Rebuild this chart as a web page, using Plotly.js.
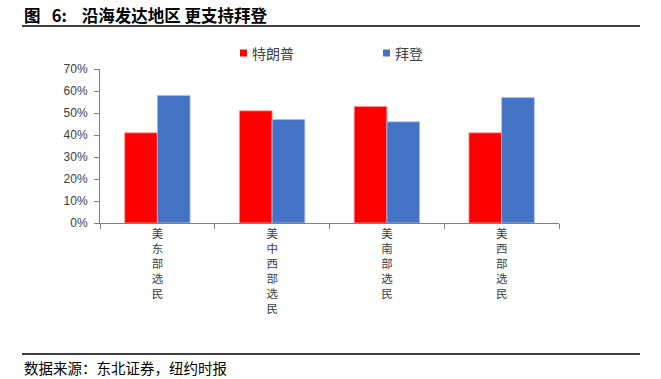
<!DOCTYPE html>
<html>
<head>
<meta charset="utf-8">
<script src="https://cdn.plot.ly/plotly-3.0.1.min.js"></script>
<style>
html,body{margin:0;padding:0;background:#fff;}
#chart{width:661px;height:379px;}
</style>
</head>
<body>
<div id="chart"></div>
<script>
const categories = ['美东部选民', '美中西部选民', '美南部选民', '美西部选民'];
const seriesNames = ['特朗普', '拜登'];
const trumpValues = [0.41, 0.51, 0.53, 0.41];
const bidenValues = [0.58, 0.47, 0.46, 0.57];
const yTickVals = [0, 0.1, 0.2, 0.3, 0.4, 0.5, 0.6, 0.7];
const yTickText = ['0%', '10%', '20%', '30%', '40%', '50%', '60%', '70%'];
const titleText = '图\u00a0\u00a0\u00a06:\u00a0\u00a0\u00a0\u00a0沿海发达地区\u00a0更支持拜登';
const sourceText = '数据来源：东北证券，纽约时报';

const colors = ['#FF0000', '#4472C4'];
const edgeColors = ['#FF9a9a', '#A8C0EC'];

const W = 661, H = 379;
const M = {l: 100, r: 102, t: 69, b: 156};
const PW = W - M.l - M.r, PH = H - M.t - M.b;
const px = x => (x - M.l) / PW;
const py = y => (H - M.b - y) / PH;

const traces = [trumpValues, bidenValues].map((vals, i) => ({
  type: 'bar',
  x: categories,
  y: vals,
  name: seriesNames[i],
  marker: {color: colors[i], line: {color: edgeColors[i], width: 0.8}},
  showlegend: false,
  hoverinfo: 'skip'
}));

const legendX = [240, 383];
const shapes = [
  {type: 'line', xref: 'paper', yref: 'paper', x0: px(22), x1: px(640), y0: py(26), y1: py(26), line: {color: '#000', width: 1.6}},
  {type: 'line', xref: 'paper', yref: 'paper', x0: px(22), x1: px(640), y0: py(354), y1: py(354), line: {color: '#000', width: 1.6}}
];
const annotations = [
  {xref: 'paper', yref: 'paper', x: px(22), y: py(15), xanchor: 'left', yanchor: 'middle', showarrow: false,
   text: '<b>' + titleText + '</b>', font: {family: 'Noto Sans CJK SC', size: 16.5, color: '#000'}},
  {xref: 'paper', yref: 'paper', x: px(22), y: py(367), xanchor: 'left', yanchor: 'middle', showarrow: false,
   text: sourceText, font: {family: 'Noto Sans CJK SC', size: 14.5, color: '#000'}}
];
seriesNames.forEach((n, i) => {
  shapes.push({type: 'rect', xref: 'paper', yref: 'paper', x0: px(legendX[i]), x1: px(legendX[i] + 7),
    y0: py(49.5), y1: py(56.5), fillcolor: colors[i], line: {width: 0}});
  annotations.push({xref: 'paper', yref: 'paper', x: px(legendX[i] + 10), y: py(53), xanchor: 'left', yanchor: 'middle',
    showarrow: false, text: n, font: {family: 'Noto Sans CJK SC', size: 14, color: '#404040'}});
});

const layout = {
  width: W, height: H,
  margin: M,
  paper_bgcolor: '#fff', plot_bgcolor: '#fff',
  barmode: 'group',
  bargap: 0.43,
  bargroupgap: 0,
  font: {family: 'Noto Sans CJK SC', color: '#404040'},
  xaxis: {
    type: 'category',
    tickvals: categories,
    ticktext: categories.map(c => c.split('').join('<br>')),
    tickangle: 0,
    tickson: 'boundaries',
    ticks: 'outside', ticklen: 5, tickcolor: '#808080', tickwidth: 1,
    showline: true, linecolor: '#808080', linewidth: 1,
    showgrid: false, zeroline: false,
    tickfont: {family: 'Noto Sans CJK SC', size: 11.5, color: '#404040'},
    fixedrange: true
  },
  yaxis: {
    range: [0, 0.7],
    tickvals: yTickVals, ticktext: yTickText,
    ticks: 'outside', ticklen: 5, tickcolor: '#808080', tickwidth: 1,
    ticklabelstandoff: 4,
    showline: true, linecolor: '#808080', linewidth: 1,
    showgrid: false, zeroline: false,
    tickfont: {family: 'Liberation Sans', size: 12, color: '#404040'},
    fixedrange: true
  },
  shapes: shapes,
  annotations: annotations
};

Plotly.newPlot('chart', traces, layout, {displayModeBar: false, staticPlot: true});
</script>
</body>
</html>
